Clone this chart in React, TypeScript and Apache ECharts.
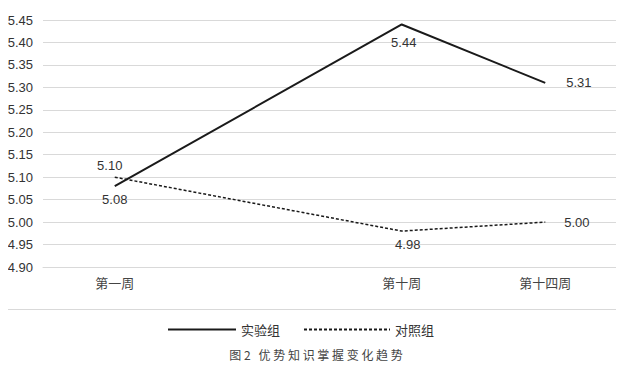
import React, { useEffect, useRef } from "react";
import * as echarts from "echarts";

const categories = ["第一周", "", "第十周", "第十四周"];
const seriesNames = ["实验组", "对照组"];
const experimentValues: (number | null)[] = [5.08, null, 5.44, 5.31];
const controlValues: (number | null)[] = [5.1, null, 4.98, 5.0];
const yMin = 4.9;
const yMax = 5.45;
const yStep = 0.05;
const caption = "图 2   优 势 知 识 掌 握 变 化 趋 势";

// label placement per point (style only)
const expLabelPos = [
  { position: "bottom", distance: 7, offset: [0, 0] },
  null,
  { position: "bottom", distance: 12, offset: [2, 0] },
  { position: "right", distance: 21, offset: [0, 0] },
];
const ctlLabelPos = [
  { position: "top", distance: 5, offset: [-5, 0] },
  null,
  { position: "bottom", distance: 7, offset: [6, 0] },
  { position: "right", distance: 19, offset: [0, 0] },
];

const LABEL_FONT = "'Liberation Sans', Arial, sans-serif";
const CJK_FONT = "'Noto Sans CJK SC', sans-serif";

function buildData(values: (number | null)[], pos: any[]) {
  return values.map((v, i) => {
    if (v === null) return "-";
    const p = pos[i];
    return {
      value: v,
      label: {
        show: true,
        position: p.position,
        distance: p.distance,
        offset: p.offset,
      },
    };
  });
}

export default function App() {
  const ref = useRef<HTMLDivElement>(null);
  useEffect(() => {
    if (!ref.current) return;
    const chart = echarts.init(ref.current, null, { renderer: "svg" });
    const labelStyle = {
      show: true,
      fontFamily: LABEL_FONT,
      fontSize: 13,
      color: "#333",
      formatter: (p: any) => Number(p.value).toFixed(2),
    };
    const legendBase = {
      top: 318,
      itemHeight: 14,
      itemGap: 0,
      itemStyle: { opacity: 0 },
      textStyle: { fontFamily: CJK_FONT, fontSize: 13, color: "#333" },
    };
    chart.setOption({
      animation: false,
      backgroundColor: "#fff",
      grid: { left: 43, right: 7, top: 20, bottom: 103, containLabel: false },
      legend: [
        { ...legendBase, data: [seriesNames[0]], left: 162, itemWidth: 68 },
        { ...legendBase, data: [seriesNames[1]], left: 298, itemWidth: 86 },
      ],
      xAxis: {
        type: "category",
        data: categories,
        boundaryGap: true,
        axisLine: { show: true, lineStyle: { color: "#d9d9d9", width: 1 } },
        axisTick: { show: false },
        axisLabel: {
          fontFamily: CJK_FONT,
          fontSize: 13,
          color: "#444",
          margin: 9,
        },
      },
      yAxis: {
        type: "value",
        min: yMin,
        max: yMax,
        interval: yStep,
        axisLine: { show: false },
        axisTick: { show: false },
        splitLine: { lineStyle: { color: "#d9d9d9", width: 1 } },
        axisLabel: {
          fontFamily: LABEL_FONT,
          fontSize: 13,
          color: "#333",
          margin: 10,
          formatter: (v: number) => v.toFixed(2),
        },
      },
      series: [
        {
          name: seriesNames[0],
          type: "line",
          symbol: "circle",
          symbolSize: 0.01,
          showSymbol: true,
          connectNulls: true,
          data: buildData(experimentValues, expLabelPos),
          lineStyle: { color: "#1a1a1a", width: 2, type: "solid" },
          itemStyle: { color: "#1a1a1a" },
          label: labelStyle,
        },
        {
          name: seriesNames[1],
          type: "line",
          symbol: "circle",
          symbolSize: 0.01,
          showSymbol: true,
          connectNulls: true,
          data: buildData(controlValues, ctlLabelPos),
          lineStyle: { color: "#1a1a1a", width: 1.5, type: [3, 2] },
          itemStyle: { color: "#1a1a1a" },
          label: labelStyle,
        },
      ],
      graphic: [
        {
          type: "line",
          shape: { x1: 0, y1: 1.5, x2: 624, y2: 1.5 },
          style: { stroke: "#d9d9d9", lineWidth: 1 },
        },
        {
          type: "line",
          shape: { x1: 0, y1: 309.5, x2: 624, y2: 309.5 },
          style: { stroke: "#d9d9d9", lineWidth: 1 },
        },
        {
          type: "text",
          x: 316,
          y: 354,
          style: {
            text: caption,
            fontFamily: CJK_FONT,
            fontSize: 12,
            fill: "#444",
            align: "center",
            verticalAlign: "middle",
          },
        },
      ],
    });
    return () => chart.dispose();
  }, []);
  return <div ref={ref} style={{ width: 624, height: 370, margin: -8 }} />;
}
